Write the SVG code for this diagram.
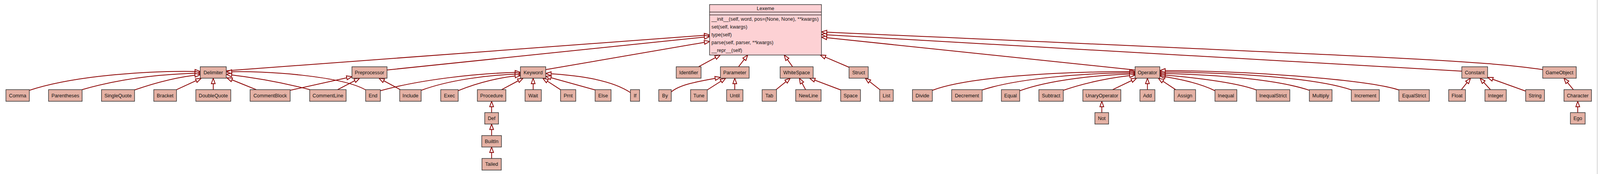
<svg xmlns="http://www.w3.org/2000/svg" width="4203" height="445" viewBox="0 0 4203 445">
<style>
.node rect{fill:#e4b1a4;stroke:#333;stroke-width:1.5}
.node text{font-family:"Liberation Sans",Arial,sans-serif;font-size:13px;fill:#111;text-anchor:middle}
.lex rect,.lex line{fill:#fdd1d4;stroke:#333;stroke-width:1.5}
.lex text{font-family:"Liberation Sans",Arial,sans-serif;font-size:13px;fill:#111}
.edge{fill:none;stroke:#8b0000;stroke-width:2;marker-end:url(#inh)}
</style>
<defs>
<marker id="inh" markerUnits="userSpaceOnUse" viewBox="-2 -2 18 14" markerWidth="18" markerHeight="14" refX="14" refY="5" orient="auto">
<path d="M0,0 L14,5 L0,10 Z" fill="#fff" stroke="#8b0000" stroke-width="2"/>
</marker>
</defs>
<rect x="0" y="0" width="4203" height="445" fill="#fff"/>
<g id="diagram" transform="matrix(0.9731 0 0 1 0 0)">
<line x1="4202" y1="0" x2="4202" y2="445" stroke="#aaa" stroke-width="1"/>

<g id="connectors">
<path class="edge" d="M595,181 L1867,89.3"/>
<path class="edge" d="M1018,179 L1867,93.5"/>
<path class="edge" d="M1436,178 L1867,106"/>
<path class="edge" d="M1838,170.7 L1895,140.7"/>
<path class="edge" d="M1943,170.7 L1967,140.7"/>
<path class="edge" d="M2085,170.7 L2063,140.7"/>
<path class="edge" d="M2233.6,172 L2158,140.7"/>
<path class="edge" d="M2986,179 L2161,95"/>
<path class="edge" d="M3846,182 C3700,175 3300,155 2161,88.3"/>
<path class="edge" d="M4058.5,178 C3900,155 3700,148 2161,81.7"/>
<path class="edge" d="M77.2,231 C200,192 400,180 527,183"/>
<path class="edge" d="M216,229.3 C320,200 430,189 527,187"/>
<path class="edge" d="M354,230 C420,208 480,195 527,191"/>
<path class="edge" d="M464.3,229.3 L529,200.5"/>
<path class="edge" d="M561,229.3 L561,200"/>
<path class="edge" d="M674,229.3 L597,199"/>
<path class="edge" d="M815,229.3 C720,205 640,195 595.5,190"/>
<path class="edge" d="M962,230 C900,195 700,180 595.5,184"/>
<path class="edge" d="M763,231 L926,196"/>
<path class="edge" d="M888,229.3 L946,200"/>
<path class="edge" d="M1053,229.3 L997,200"/>
<path class="edge" d="M1000.6,232 C1100,205 1250,187 1369.2,185"/>
<path class="edge" d="M1108,231 C1180,205 1280,192 1369.2,189"/>
<path class="edge" d="M1205,232 C1260,210 1320,197 1369.2,193"/>
<path class="edge" d="M1319.6,229.3 L1376,200"/>
<path class="edge" d="M1402.6,229.3 L1402.6,200"/>
<path class="edge" d="M1474.6,229.3 L1428,200"/>
<path class="edge" d="M1565.6,230 L1435.7,195"/>
<path class="edge" d="M1659,237 C1610,205 1520,192 1435.7,188"/>
<path class="edge" d="M1293.3,288 L1293.3,259"/>
<path class="edge" d="M1293.3,346.7 L1293.3,317.3"/>
<path class="edge" d="M1293.3,405.3 L1293.3,376"/>
<path class="edge" d="M1766,235 C1790,215 1840,208 1895.3,198"/>
<path class="edge" d="M1860.6,230 L1909,200"/>
<path class="edge" d="M1933,229.3 L1933,200"/>
<path class="edge" d="M2041.7,229.3 L2079,200"/>
<path class="edge" d="M2119.3,229.3 L2103,200"/>
<path class="edge" d="M2211.6,230 L2130,200"/>
<path class="edge" d="M2314.7,229.3 L2276.4,200"/>
<path class="edge" d="M2452.7,231 C2550,195 2800,183 2986,183"/>
<path class="edge" d="M2584,230 C2680,200 2850,187 2986,186"/>
<path class="edge" d="M2683,232 C2760,205 2880,192 2986,189"/>
<path class="edge" d="M2797,231 C2860,210 2930,197 2986,192"/>
<path class="edge" d="M2927,229.3 L2990,200"/>
<path class="edge" d="M2898.6,288 L2898.6,259"/>
<path class="edge" d="M3018.6,229.3 L3018.6,200"/>
<path class="edge" d="M3093,229.3 L3047.4,200"/>
<path class="edge" d="M3196.3,232 C3150,210 3090,200 3051.2,194"/>
<path class="edge" d="M3305,230 C3250,210 3130,197 3051.2,191"/>
<path class="edge" d="M3445,231 C3350,200 3170,190 3051.2,187.5"/>
<path class="edge" d="M3555.3,230 C3450,195 3200,185 3051.2,184"/>
<path class="edge" d="M3680,230 C3600,205 3300,181 3051.2,180.5"/>
<path class="edge" d="M3844.5,229.3 L3868.6,200"/>
<path class="edge" d="M3921,229.3 L3893.6,200"/>
<path class="edge" d="M4013.6,233 L3913.6,198"/>
<path class="edge" d="M4139.3,229.3 L4114.3,200"/>
<path class="edge" d="M4150.7,288 L4150.7,259"/>
</g>

<g id="Lexeme" class="lex">
<rect x="1866.7" y="11.7" width="294.3" height="129"/>
<line x1="1866.7" y1="30.7" x2="2161" y2="30.7"/>
<line x1="1866.7" y1="38.3" x2="2161" y2="38.3"/>
<text x="2013.8" y="25.7" text-anchor="middle">Lexeme</text>
<text x="1871.7" y="53.3">__init__(self, word, pos=(None, None), **kwargs)</text>
<text x="1871.7" y="73.3">set(self, kwargs)</text>
<text x="1871.7" y="93.3">type(self)</text>
<text x="1871.7" y="113.3">parse(self, parser, **kwargs)</text>
<text x="1871.7" y="133.3">__repr__(self)</text>
</g>

<g id="Delimiter" class="node"><rect x="526.8" y="170.7" width="68.5" height="29.3"/><text x="561" y="190">Delimiter</text></g>
<g id="Preprocessor" class="node"><rect x="925.9" y="170.7" width="92.3" height="29.3"/><text x="972" y="190">Preprocessor</text></g>
<g id="Keyword" class="node"><rect x="1369.2" y="170.7" width="66.5" height="29.3"/><text x="1402.5" y="190">Keyword</text></g>
<g id="Identifier" class="node"><rect x="1779" y="170.7" width="65.3" height="29.3"/><text x="1811.7" y="190">Identifier</text></g>
<g id="Parameter" class="node"><rect x="1895.3" y="170.7" width="75.5" height="29.3"/><text x="1933" y="190">Parameter</text></g>
<g id="WhiteSpace" class="node"><rect x="2052.4" y="170.7" width="86.8" height="29.3"/><text x="2095.8" y="190">WhiteSpace</text></g>
<g id="Struct" class="node"><rect x="2233.6" y="170.7" width="50.5" height="29.3"/><text x="2258.9" y="190">Struct</text></g>
<g id="Operator" class="node"><rect x="2986.1" y="170.7" width="65.1" height="29.3"/><text x="3018.6" y="190">Operator</text></g>
<g id="Constant" class="node"><rect x="3845.7" y="170.7" width="67.9" height="29.3"/><text x="3879.6" y="190">Constant</text></g>
<g id="GameObject" class="node"><rect x="4058.5" y="170.7" width="88.3" height="29.3"/><text x="4102.6" y="190">GameObject</text></g>

<g id="Comma" class="node"><rect x="15.6" y="229.3" width="61.6" height="29.7"/><text x="46.4" y="248.7">Comma</text></g>
<g id="Parentheses" class="node"><rect x="127.7" y="229.3" width="88.4" height="29.7"/><text x="171.9" y="248.7">Parentheses</text></g>
<g id="SingleQuote" class="node"><rect x="267" y="229.3" width="87" height="29.7"/><text x="310.5" y="248.7">SingleQuote</text></g>
<g id="Bracket" class="node"><rect x="404.5" y="229.3" width="59.8" height="29.7"/><text x="434.4" y="248.7">Bracket</text></g>
<g id="DoubleQuote" class="node"><rect x="515.2" y="229.3" width="91.9" height="29.7"/><text x="561.2" y="248.7">DoubleQuote</text></g>
<g id="CommentBlock" class="node"><rect x="658" y="229.3" width="105.3" height="29.7"/><text x="710.7" y="248.7">CommentBlock</text></g>
<g id="CommentLine" class="node"><rect x="814.6" y="229.3" width="96" height="29.7"/><text x="862.6" y="248.7">CommentLine</text></g>
<g id="End" class="node"><rect x="961.9" y="229.3" width="38.7" height="29.7"/><text x="981.3" y="248.7">End</text></g>
<g id="Include" class="node"><rect x="1051.5" y="229.3" width="56.5" height="29.7"/><text x="1079.8" y="248.7">Include</text></g>
<g id="Exec" class="node"><rect x="1159.4" y="229.3" width="46" height="29.7"/><text x="1182.4" y="248.7">Exec</text></g>
<g id="Procedure" class="node"><rect x="1255.8" y="229.3" width="75" height="29.7"/><text x="1293.3" y="248.7">Procedure</text></g>
<g id="Wait" class="node"><rect x="1381.3" y="229.3" width="42.8" height="29.7"/><text x="1402.7" y="248.7">Wait</text></g>
<g id="Prnt" class="node"><rect x="1474.6" y="229.3" width="40.1" height="29.7"/><text x="1494.7" y="248.7">Prnt</text></g>
<g id="Else" class="node"><rect x="1565.6" y="229.3" width="42" height="29.7"/><text x="1586.6" y="248.7">Else</text></g>
<g id="If" class="node"><rect x="1658.5" y="229.3" width="24.1" height="29.7"/><text x="1670.6" y="248.7">If</text></g>
<g id="By" class="node"><rect x="1733" y="229.3" width="33" height="29.7"/><text x="1749.5" y="248.7">By</text></g>
<g id="Tune" class="node"><rect x="1816.7" y="229.3" width="43.9" height="29.7"/><text x="1838.7" y="248.7">Tune</text></g>
<g id="Until" class="node"><rect x="1911.6" y="229.3" width="42.9" height="29.7"/><text x="1933" y="248.7">Until</text></g>
<g id="Tab" class="node"><rect x="2005" y="229.3" width="37.8" height="29.7"/><text x="2023.9" y="248.7">Tab</text></g>
<g id="NewLine" class="node"><rect x="2093.3" y="229.3" width="66.8" height="29.7"/><text x="2126.7" y="248.7">NewLine</text></g>
<g id="Space" class="node"><rect x="2211.6" y="229.3" width="52.1" height="29.7"/><text x="2237.7" y="248.7">Space</text></g>
<g id="List" class="node"><rect x="2314.2" y="229.3" width="35.7" height="29.7"/><text x="2332" y="248.7">List</text></g>
<g id="Divide" class="node"><rect x="2400.4" y="229.3" width="52.3" height="29.7"/><text x="2426.6" y="248.7">Divide</text></g>
<g id="Decrement" class="node"><rect x="2503.6" y="229.3" width="80.3" height="29.7"/><text x="2543.8" y="248.7">Decrement</text></g>
<g id="Equal" class="node"><rect x="2634.4" y="229.3" width="48.2" height="29.7"/><text x="2658.5" y="248.7">Equal</text></g>
<g id="Subtract" class="node"><rect x="2733" y="229.3" width="64.3" height="29.7"/><text x="2765.2" y="248.7">Subtract</text></g>
<g id="UnaryOperator" class="node"><rect x="2848.7" y="229.3" width="100" height="29.7"/><text x="2898.7" y="248.7">UnaryOperator</text></g>
<g id="Add" class="node"><rect x="2998.9" y="229.3" width="39.4" height="29.7"/><text x="3018.6" y="248.7">Add</text></g>
<g id="Assign" class="node"><rect x="3088.9" y="229.3" width="56.4" height="29.7"/><text x="3117.1" y="248.7">Assign</text></g>
<g id="Inequal" class="node"><rect x="3196.3" y="229.3" width="57.6" height="29.7"/><text x="3225.1" y="248.7">Inequal</text></g>
<g id="InequalStrict" class="node"><rect x="3304.9" y="229.3" width="88.3" height="29.7"/><text x="3349" y="248.7">InequalStrict</text></g>
<g id="Multiply" class="node"><rect x="3444.6" y="229.3" width="59.7" height="29.7"/><text x="3474.5" y="248.7">Multiply</text></g>
<g id="Increment" class="node"><rect x="3555" y="229.3" width="73.7" height="29.7"/><text x="3591.9" y="248.7">Increment</text></g>
<g id="EqualStrict" class="node"><rect x="3680" y="229.3" width="80.3" height="29.7"/><text x="3720.2" y="248.7">EqualStrict</text></g>
<g id="Float" class="node"><rect x="3811.1" y="229.3" width="44.2" height="29.7"/><text x="3833.2" y="248.7">Float</text></g>
<g id="Integer" class="node"><rect x="3906.5" y="229.3" width="56.2" height="29.7"/><text x="3934.6" y="248.7">Integer</text></g>
<g id="String" class="node"><rect x="4013.6" y="229.3" width="49.5" height="29.7"/><text x="4038.4" y="248.7">String</text></g>
<g id="Character" class="node"><rect x="4114.4" y="229.3" width="72.4" height="29.7"/><text x="4150.6" y="248.7">Character</text></g>

<g id="Def" class="node"><rect x="1275.2" y="288" width="36.2" height="29.3"/><text x="1293.3" y="307.2">Def</text></g>
<g id="Not" class="node"><rect x="2880.4" y="288" width="36.1" height="29.3"/><text x="2898.5" y="307.2">Not</text></g>
<g id="Ego" class="node"><rect x="4131.4" y="288" width="38.8" height="29.3"/><text x="4150.8" y="307.2">Ego</text></g>
<g id="BuiltIn" class="node"><rect x="1267.4" y="346.7" width="51.8" height="29.3"/><text x="1293.3" y="365.9">BuiltIn</text></g>
<g id="Tailed" class="node"><rect x="1267.9" y="405.3" width="50.9" height="29.7"/><text x="1293.3" y="424.5">Tailed</text></g>
</g>
</svg>
